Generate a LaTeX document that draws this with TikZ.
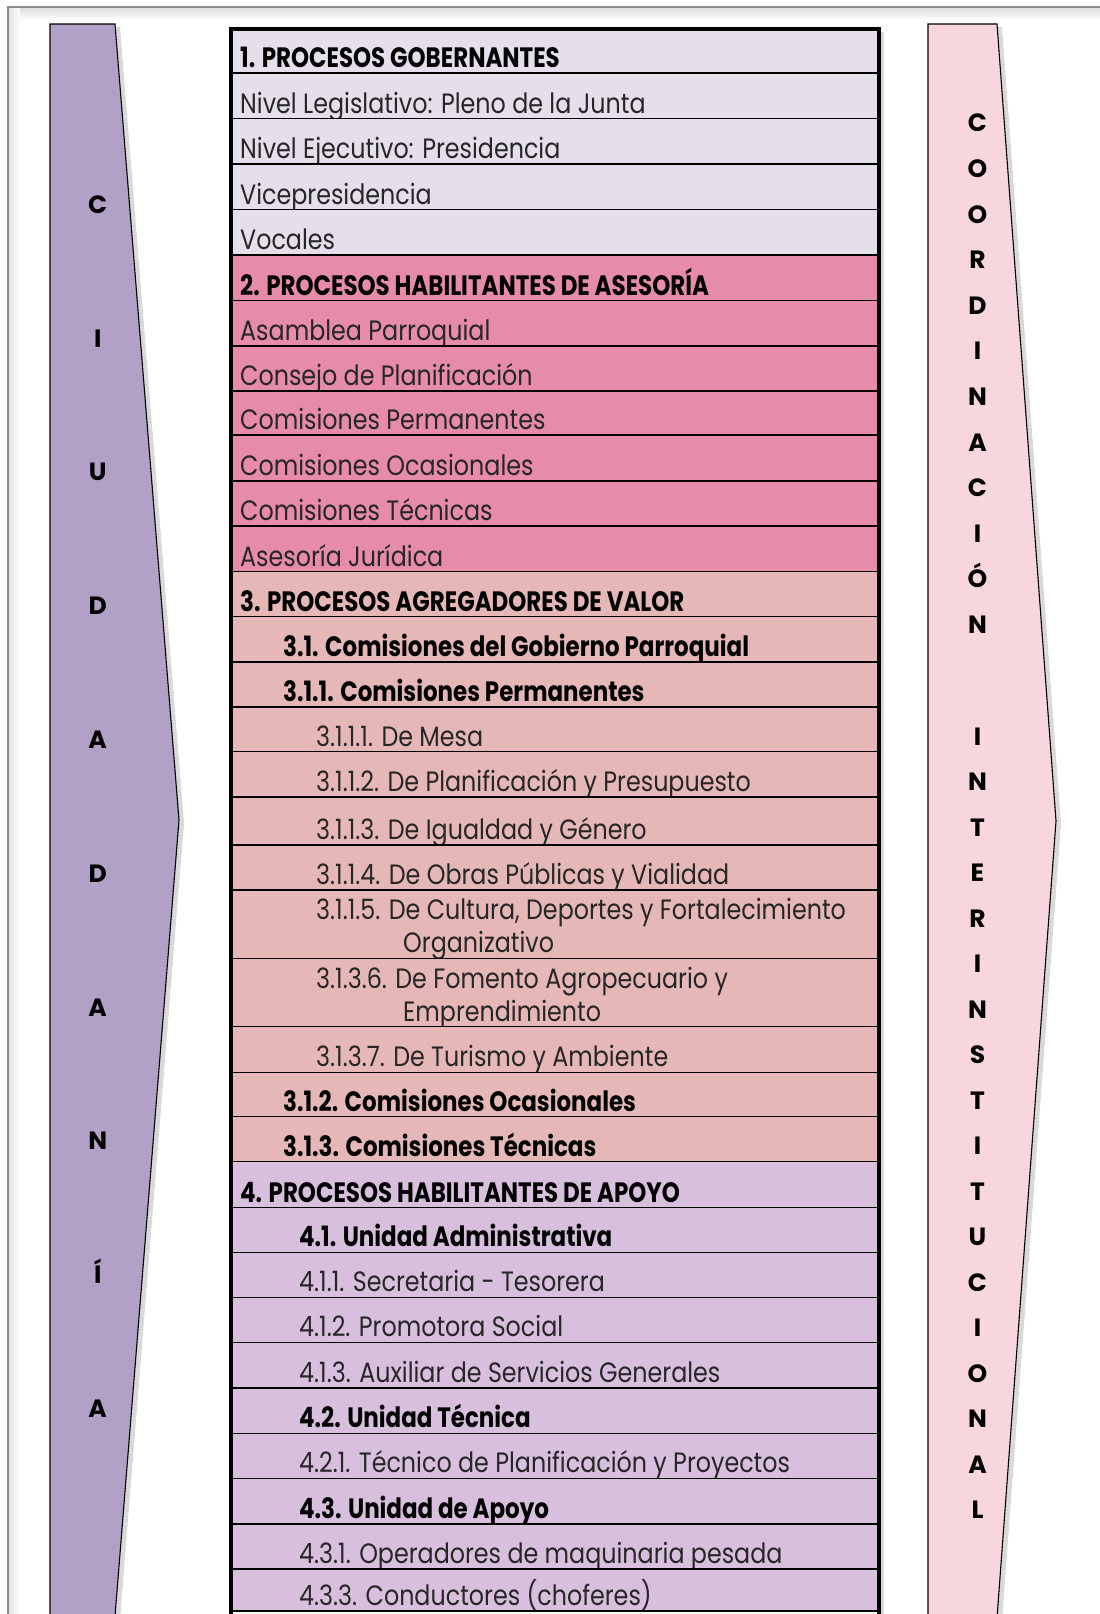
\documentclass[tikz,border=0pt]{standalone}
\usepackage{fontspec}
\setmainfont{Poppins}[FakeStretch=0.85,BoldFeatures={FakeStretch=0.82}]
\newfontfamily\letterfont{Poppins}
\usetikzlibrary{shadows}
\definecolor{GobLilac}{HTML}{E5DFEC}
\definecolor{AseRose}{HTML}{E68BAC}
\definecolor{AgrSalmon}{HTML}{E5B8B7}
\definecolor{ApoMauve}{HTML}{D8BFDE}
\definecolor{CiudPurple}{HTML}{B2A1C7}
\definecolor{CoordPink}{HTML}{F7D6DE}
\definecolor{FrameGray}{HTML}{8C8C8C}
\begin{document}
\begin{tikzpicture}[x=1pt,y=-1pt,
 rowtxt/.style={anchor=base west,inner sep=0pt,text=black!85,
   font=\fontsize{28}{33}\selectfont},
 headtxt/.style={rowtxt,text=black,font=\fontsize{28}{33}\selectfont\bfseries},
 cell/.style={draw=black,line width=1.3pt},
 banner/.style={draw=black,line width=1.1pt,
   drop shadow={shadow xshift=5pt,shadow yshift=-3pt,opacity=.3}},
 letter/.style={anchor=base,inner sep=0pt,
   font=\letterfont\bfseries\fontsize{25}{30}\selectfont}
]
 \clip (0,0) rectangle (1100,1614);
 % page frame
 \fill[top color=black!14,bottom color=white] (8,7) rectangle (1100,20);
 \fill[left color=black!12,right color=white] (8,7) rectangle (20,1614);
 \draw[FrameGray,line width=1.2pt] (8,1614)--(8,7)--(1100,7);
 % side banners
 \path[banner,fill=CiudPurple] (50,24)--(115,24)--(179,820)--(115,1616)--(50,1616)--cycle;
 \path[banner,fill=CoordPink] (928,24)--(997,24)--(1056,821)--(997,1618)--(928,1618)--cycle;
 \foreach \ch [count=\k from 0] in {C,I,U,D,A,D,A,N,Í,A}
   \node[letter] (ciud\k) at (97.7,{213.2+133.8*\k}) {\ch};
 \foreach \ch [count=\k from 0] in {C,O,O,R,D,I,N,A,C,I,Ó,N}
   \node[letter] (coord\k) at (977.5,{131.9+45.6*\k}) {\ch};
 \foreach \ch [count=\k from 0] in {I,N,T,E,R,I,N,S,T,I,T,U,C,I,O,N,A,L}
   \node[letter] (inter\k) at (977.5,{745.2+45.5*\k}) {\ch};
 % process table
 \path[fill=white,drop shadow={shadow xshift=5pt,shadow yshift=-3pt,opacity=.3}]
   (231,29) rectangle (879,1640);
 \foreach \ya/\yb/\xx/\cc/\st/\txt [count=\i] in {
   29/73/240/GobLilac/headtxt/{1. PROCESOS GOBERNANTES},
   73/118.5/240/GobLilac/rowtxt/{Nivel Legislativo: Pleno de la Junta},
   118.5/164/240/GobLilac/rowtxt/{Nivel Ejecutivo: Presidencia},
   164/209.5/240/GobLilac/rowtxt/{Vicepresidencia},
   209.5/255/240/GobLilac/rowtxt/{Vocales},
   255/300.5/240/AseRose/headtxt/{2. PROCESOS HABILITANTES DE ASESORÍA},
   300.5/346/240/AseRose/rowtxt/{Asamblea Parroquial},
   346/391/240/AseRose/rowtxt/{Consejo de Planificación},
   391/435/240/AseRose/rowtxt/{Comisiones Permanentes},
   435/481/240/AseRose/rowtxt/{Comisiones Ocasionales},
   481/526/240/AseRose/rowtxt/{Comisiones Técnicas},
   526/571.5/240/AseRose/rowtxt/{Asesoría Jurídica},
   571.5/616.5/240/AgrSalmon/headtxt/{3. PROCESOS AGREGADORES DE VALOR},
   616.5/662/283/AgrSalmon/headtxt/{3.1. Comisiones del Gobierno Parroquial},
   662/707/283/AgrSalmon/headtxt/{3.1.1. Comisiones Permanentes},
   707/751.5/316/AgrSalmon/rowtxt/{3.1.1.1. De Mesa},
   751.5/797/316/AgrSalmon/rowtxt/{3.1.1.2. De Planificación y Presupuesto},
   797/845/316/AgrSalmon/rowtxt/{3.1.1.3. De Igualdad y Género},
   845/890/316/AgrSalmon/rowtxt/{3.1.1.4. De Obras Públicas y Vialidad},
   890/958.3/316/AgrSalmon/rowtxt/{\begin{tabular}[b]{@{}l@{}}3.1.1.5. De Cultura, Deportes y Fortalecimiento\\\hspace*{87pt}Organizativo\end{tabular}},
   958.3/1026.7/316/AgrSalmon/rowtxt/{\begin{tabular}[b]{@{}l@{}}3.1.3.6. De Fomento Agropecuario y\\\hspace*{87pt}Emprendimiento\end{tabular}},
   1026.7/1072.3/316/AgrSalmon/rowtxt/{3.1.3.7. De Turismo y Ambiente},
   1072.3/1116.7/283/AgrSalmon/headtxt/{3.1.2. Comisiones Ocasionales},
   1116.7/1161.7/283/AgrSalmon/headtxt/{3.1.3. Comisiones Técnicas},
   1161.7/1207.7/240/ApoMauve/headtxt/{4. PROCESOS HABILITANTES DE APOYO},
   1207.7/1252.3/299/ApoMauve/headtxt/{4.1. Unidad Administrativa},
   1252.3/1297.3/299/ApoMauve/rowtxt/{4.1.1. Secretaria - Tesorera},
   1297.3/1342.3/299/ApoMauve/rowtxt/{4.1.2. Promotora Social},
   1342.3/1388/299/ApoMauve/rowtxt/{4.1.3. Auxiliar de Servicios Generales},
   1388/1433.3/299/ApoMauve/headtxt/{4.2. Unidad Técnica},
   1433.3/1478.3/299/ApoMauve/rowtxt/{4.2.1. Técnico de Planificación y Proyectos},
   1478.3/1524/299/ApoMauve/headtxt/{4.3. Unidad de Apoyo},
   1524/1569/299/ApoMauve/rowtxt/{4.3.1. Operadores de maquinaria pesada},
   1569/1611/299/ApoMauve/rowtxt/{4.3.3. Conductores (choferes)}}{
   \path[cell,fill=\cc] (231,\ya) rectangle (879,\yb);
   \node[\st] (r\i) at (\xx,\yb-5.5) {\txt};
 }
 \draw[line width=3.5pt] (231,29) rectangle (879,1640);
\end{tikzpicture}
\end{document}
